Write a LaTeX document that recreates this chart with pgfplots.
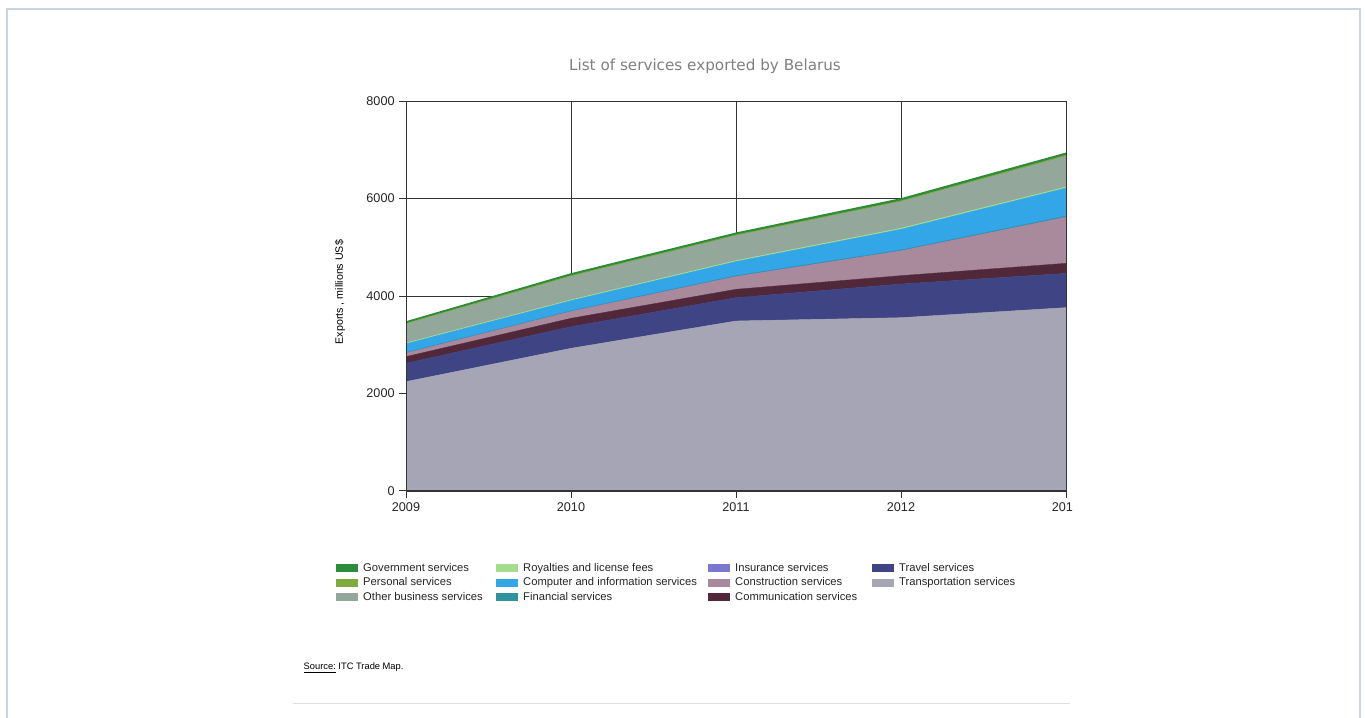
\documentclass[border=0pt]{standalone}
\usepackage{fontspec}
\setmainfont{Liberation Sans}
\newfontfamily\titlefont{DejaVu Sans}
\usepackage{pgfplots}
\pgfplotsset{compat=1.18}
\definecolor{transc}{HTML}{A6A5B5}
\definecolor{travc}{HTML}{3F4584}
\definecolor{commc}{HTML}{51283A}
\definecolor{consc}{HTML}{A98A9D}
\definecolor{insc}{HTML}{7B79CF}
\definecolor{finc}{HTML}{2E939F}
\definecolor{compc}{HTML}{32A6E6}
\definecolor{royc}{HTML}{A6DC8E}
\definecolor{othc}{HTML}{93A89A}
\definecolor{persc}{HTML}{7FAB3F}
\definecolor{govc}{HTML}{2E8B3A}
\definecolor{gridc}{HTML}{333333}
\definecolor{framec}{HTML}{C9D5DF}
\pgfplotsset{
 myframe/.style={
  at={(304.5pt,170.25pt)}, anchor=south west,
  scale only axis, width=495pt, height=292.5pt,
  xmin=2009, xmax=2013, ymin=0, ymax=8000,
  xtick={2009,2010,2011,2012,2013},
  ytick={0,2000,4000,6000,8000},
  axis line style={gridc, line width=0.75pt},
  tick style={gridc, line width=0.75pt},
  tick align=outside, major tick length=5pt, tick pos=left,
 }
}
\begin{document}
\begin{tikzpicture}
\useasboundingbox (0,0) rectangle (1023.75pt,538.5pt);
\fill[white] (0,0) rectangle (1023.75pt,538.5pt);
\draw[framec, line width=0.9pt] (5.25pt,-1pt) -- (5.25pt,531.75pt) -- (1020pt,531.75pt) -- (1020pt,-1pt);
\node[font=\titlefont\fontsize{11.4pt}{13pt}\selectfont, text=black!50] at (528.75pt,489pt) {List of services exported by Belarus};
\node[anchor=base west, font=\fontsize{7pt}{8pt}\selectfont] at (224.25pt,36pt) {\underline{Source:}\ ITC Trade Map.};
\draw[black!12, line width=0.75pt] (219.75pt,10.5pt) -- (802.5pt,10.5pt);
\begin{axis}[
 myframe,
 xticklabels={2009,2010,2011,2012,201\phantom{3}},
 /pgf/number format/1000 sep={},
 /pgf/number format/assume math mode=true,
 tick label style={font=\fontsize{9.5pt}{11pt}\selectfont, text=black!85},
 grid=major, grid style={gridc, line width=0.7pt},
 ylabel={Exports , millions US\$},
 ylabel style={at={(axis description cs:-0.1,0.51)}, anchor=center, font=\fontsize{8pt}{9pt}\selectfont},
 stack plots=y,
 legend image code/.code={\path[#1, draw=none] (0pt,-3pt) rectangle (16.5pt,3pt); \path[draw=none, fill=none] (0pt,0pt) -- (20.25pt,0pt);},
 legend columns=3,
 transpose legend,
 reverse legend,
 legend cell align=left,
 legend style={at={(-0.1061,-0.1833)}, anchor=north west, draw=none, fill=none, inner sep=0pt,
   column sep=0pt, row sep=2.6pt,
   nodes={inner sep=0pt, text height=6.5pt, text depth=1.8pt},
   font=\fontsize{8.4pt}{9pt}\selectfont, text=black!85},
]
% stacked from bottom
\addplot[fill=transc, draw=transc, line width=0.3pt] coordinates {(2009,2243) (2010,2927) (2011,3487) (2012,3555) (2013,3761)} \closedcycle;
\addlegendentry{\makebox[95pt][l]{Transportation services}}
\addplot[fill=travc, draw=travc, line width=0.3pt] coordinates {(2009,376) (2010,444) (2011,479) (2012,691) (2013,704)} \closedcycle;
\addlegendentry{\makebox[95pt][l]{Travel services}}
\addplot[fill=commc, draw=commc, line width=0.3pt] coordinates {(2009,137) (2010,171) (2011,171) (2012,171) (2013,205)} \closedcycle;
\addlegendentry{\makebox[102.75pt][l]{Communication services}}
\addplot[fill=consc, draw=consc, line width=0.3pt] coordinates {(2009,68) (2010,137) (2011,259) (2012,506) (2013,944)} \closedcycle;
\addlegendentry{\makebox[102.75pt][l]{Construction services}}
\addplot[fill=insc, draw=insc, line width=0.3pt] coordinates {(2009,5) (2010,5) (2011,5) (2012,5) (2013,5)} \closedcycle;
\addlegendentry{\makebox[102.75pt][l]{Insurance services}}
\addplot[fill=finc, draw=finc, line width=0.3pt] coordinates {(2009,10) (2010,10) (2011,15) (2012,15) (2013,20)} \closedcycle;
\addlegendentry{\makebox[138.75pt][l]{Financial services}}
\addplot[fill=compc, draw=compc, line width=0.3pt] coordinates {(2009,180) (2010,210) (2011,290) (2012,425) (2013,575)} \closedcycle;
\addlegendentry{\makebox[138.75pt][l]{Computer and information services}}
\addplot[fill=royc, draw=royc, line width=0.5pt] coordinates {(2009,15) (2010,15) (2011,18) (2012,20) (2013,20)} \closedcycle;
\addlegendentry{\makebox[138.75pt][l]{Royalties and license fees}}
\addplot[fill=othc, draw=othc, line width=0.3pt] coordinates {(2009,390) (2010,480) (2011,510) (2012,545) (2013,630)} \closedcycle;
\addlegendentry{\makebox[99.75pt][l]{Other business services}}
\addplot[fill=persc, draw=persc, line width=0.3pt] coordinates {(2009,15) (2010,20) (2011,20) (2012,20) (2013,25)} \closedcycle;
\addlegendentry{\makebox[99.75pt][l]{Personal services}}
\addplot[fill=govc, draw=govc, line width=1pt] coordinates {(2009,30) (2010,35) (2011,35) (2012,40) (2013,40)} \closedcycle;
\addlegendentry{\makebox[99.75pt][l]{Government services}}
\end{axis}
% axis box and ticks on top of the areas
\begin{axis}[myframe, xticklabels={}, yticklabels={}]
\end{axis}
\end{tikzpicture}
\end{document}
